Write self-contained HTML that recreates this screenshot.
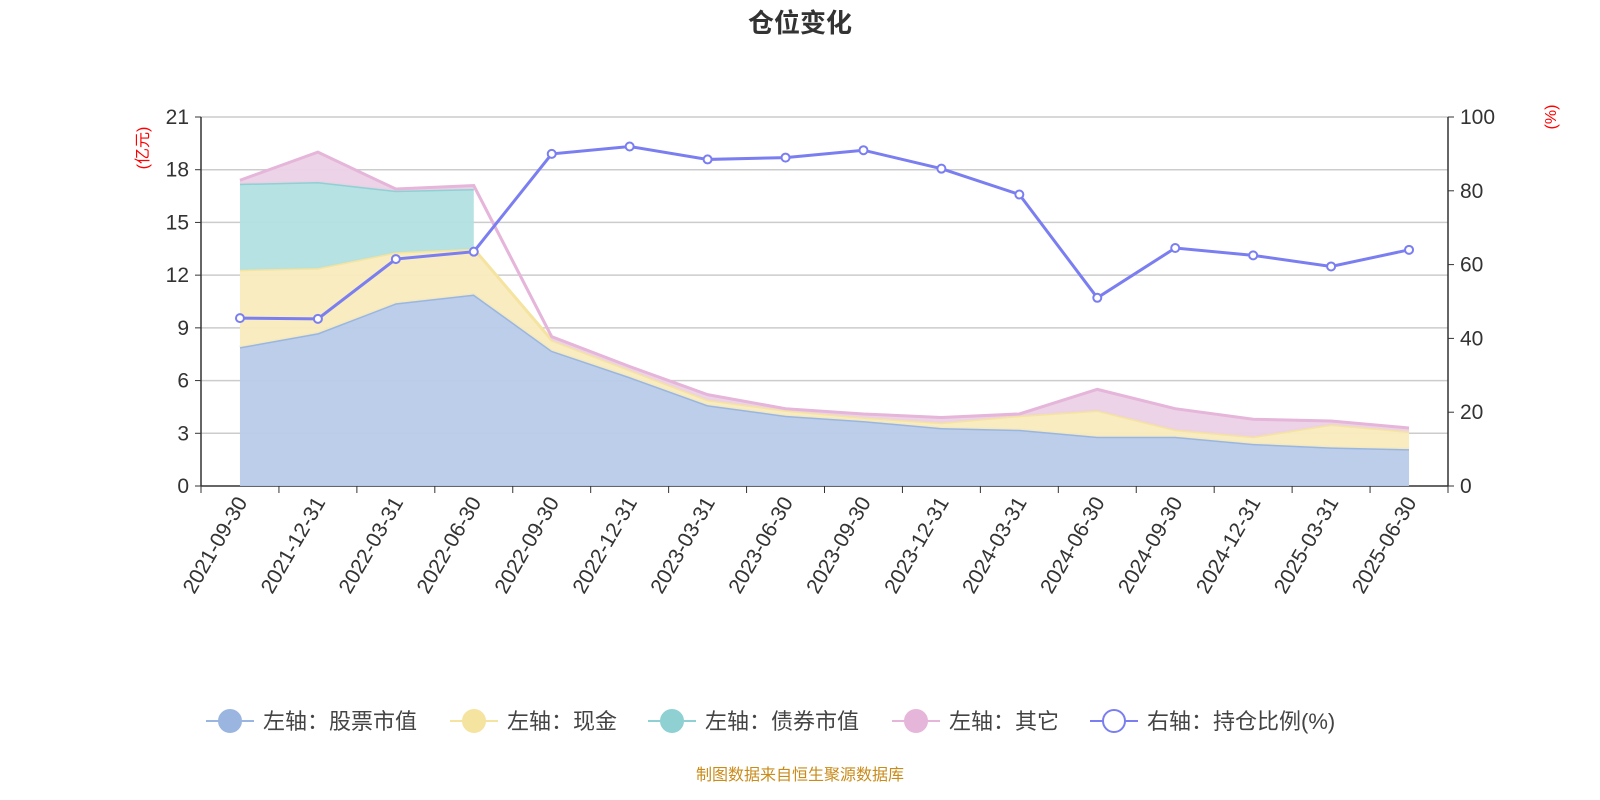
<!DOCTYPE html>
<html><head><meta charset="utf-8"><style>
body{margin:0;background:#fff;}
svg{display:block;font-family:"Liberation Sans","Noto Sans CJK SC",sans-serif;}
</style></head><body>
<svg id="c" width="1600" height="800" viewBox="0 0 1600 800">
<text x="800" y="32" text-anchor="middle" font-size="26" font-weight="bold" fill="#333">仓位变化</text>
<text transform="translate(148,148) rotate(-90)" text-anchor="middle" font-size="16" fill="#f00">(亿元)</text>
<text transform="translate(1556,117) rotate(-90)" text-anchor="middle" font-size="16" fill="#f00">(%)</text>
<g id="grid"></g><g id="areas"></g><g id="axes"></g><g id="ratio"></g>
<g id="legend" font-size="22" fill="#444"></g>
<text x="800" y="780" text-anchor="middle" font-size="16" fill="#c98b1a">制图数据来自恒生聚源数据库</text>
</svg>
<script>
const categories=["2021-09-30","2021-12-31","2022-03-31","2022-06-30","2022-09-30","2022-12-31","2023-03-31","2023-06-30","2023-09-30","2023-12-31","2024-03-31","2024-06-30","2024-09-30","2024-12-31","2025-03-31","2025-06-30"];
const stockValues=[7.9,8.7,10.4,10.9,7.7,6.2,4.6,4.0,3.7,3.3,3.2,2.8,2.8,2.4,2.2,2.1];
const cashValues=[4.4,3.7,2.9,2.6,0.6,0.4,0.3,0.3,0.2,0.3,0.8,1.5,0.4,0.4,1.3,1.0];
const bondValues=[4.9,4.9,3.5,3.4,null,null,null,null,null,null,null,null,null,null,null,null];
const otherValues=[0.2,1.7,0.1,0.2,0.2,0.2,0.3,0.1,0.2,0.3,0.1,1.2,1.2,1.0,0.2,0.2];
const ratioValues=[45.5,45.3,61.5,63.5,90,92,88.5,89,91,86,79,51,64.5,62.5,59.5,64];
const leftTicks=[0,3,6,9,12,15,18,21];
const rightTicks=[0,20,40,60,80,100];
const L=201,R=1448,T=117,B=486,NS="http://www.w3.org/2000/svg";
const bw=(R-L)/categories.length;
const x=i=>L+bw*(i+0.5);
const yL=v=>B-(v/21)*(B-T);
const yR=v=>B-(v/100)*(B-T);
function mk(tag,attrs,parent){const e=document.createElementNS(NS,tag);for(const k in attrs)e.setAttribute(k,attrs[k]);parent.appendChild(e);return e;}
const grid=document.getElementById('grid'),axes=document.getElementById('axes'),areas=document.getElementById('areas'),ratioG=document.getElementById('ratio'),leg=document.getElementById('legend');
leftTicks.forEach(v=>{
 const ln=mk('line',{x1:L,x2:R,y1:yL(v),y2:yL(v),stroke:v===0?'#333':'#ccc','stroke-width':1.5},grid);
 
 
 mk('line',{x1:L-6,x2:L,y1:yL(v),y2:yL(v),stroke:'#333'},axes);
 const t=mk('text',{x:L-12,y:yL(v)+7,'text-anchor':'end','font-size':21,fill:'#333'},axes);t.textContent=v;
 
 
});
rightTicks.forEach(v=>{
 mk('line',{x1:R,x2:R+6,y1:yR(v),y2:yR(v),stroke:'#333'},axes);
 const t=mk('text',{x:R+12,y:yR(v)+7,'font-size':21,fill:'#333'},axes);t.textContent=v;
 
 
});
mk('line',{x1:L,x2:L,y1:T,y2:B,stroke:'#333','stroke-width':1.5},axes);
mk('line',{x1:R,x2:R,y1:T,y2:B,stroke:'#333','stroke-width':1.5},axes);
for(let i=0;i<=categories.length;i++)mk('line',{x1:L+bw*i,x2:L+bw*i,y1:B,y2:B+7,stroke:'#333'},axes);
categories.forEach((c,i)=>{
 const t=mk('text',{transform:`translate(${x(i)+8},${B+16}) rotate(-60)`,'text-anchor':'end','font-size':21,fill:'#333'},axes);t.textContent=c;
 
 
});
const series=[[stockValues,'#b8cbe9','#9ab6e0','stock-area'],[cashValues,'#f8ebbd','#f5e3a0','cash-area'],[bondValues,'#b3e0e1','#8fd0d3','bond-area'],[otherValues,'#ecd1e6','#e5b5da','other-area']];
let base=categories.map(()=>0);
series.forEach(([vals,fill,line,name])=>{
 const idx=[];vals.forEach((v,i)=>{if(v!==null)idx.push(i);});
 const top=base.slice();idx.forEach(i=>top[i]=base[i]+vals[i]);
 let d='M'+idx.map(i=>x(i)+','+yL(top[i])).join('L')+'L'+idx.slice().reverse().map(i=>x(i)+','+yL(base[i])).join('L')+'Z';
 const p=mk('path',{d:d,fill:fill,opacity:0.95},areas);
 
 
 const l=mk('path',{d:'M'+idx.map(i=>x(i)+','+yL(top[i])).join('L'),fill:'none',stroke:line,'stroke-width':3},areas);
 
 
 base=top;
});
const rl=mk('path',{d:'M'+ratioValues.map((v,i)=>x(i)+','+yR(v)).join('L'),fill:'none',stroke:'#7a7ef0','stroke-width':3},ratioG);


ratioValues.forEach((v,i)=>{
 const c=mk('circle',{cx:x(i),cy:yR(v),r:4,fill:'#fff',stroke:'#7a7ef0','stroke-width':2},ratioG);
 
 
});
const legItems=[['左轴：股票市值','#9ab6e0',true,206],['左轴：现金','#f5e3a0',true,450],['左轴：债券市值','#8fd0d3',true,648],['左轴：其它','#e5b5da',true,892],['右轴：持仓比例(%)','#7a7ef0',false,1090]];
legItems.forEach(([label,col,filled,lx])=>{
 const g=mk('g',{},leg);
 
 
 mk('line',{x1:lx,x2:lx+48,y1:721,y2:721,stroke:col,'stroke-width':2},g);
 mk('circle',{cx:lx+24,cy:721,r:11,fill:filled?col:'#fff',stroke:col,'stroke-width':2},g);
 const t=mk('text',{x:lx+57,y:729,'font-size':22,fill:'#444'},g);t.textContent=label;
});
</script>
</body></html>
